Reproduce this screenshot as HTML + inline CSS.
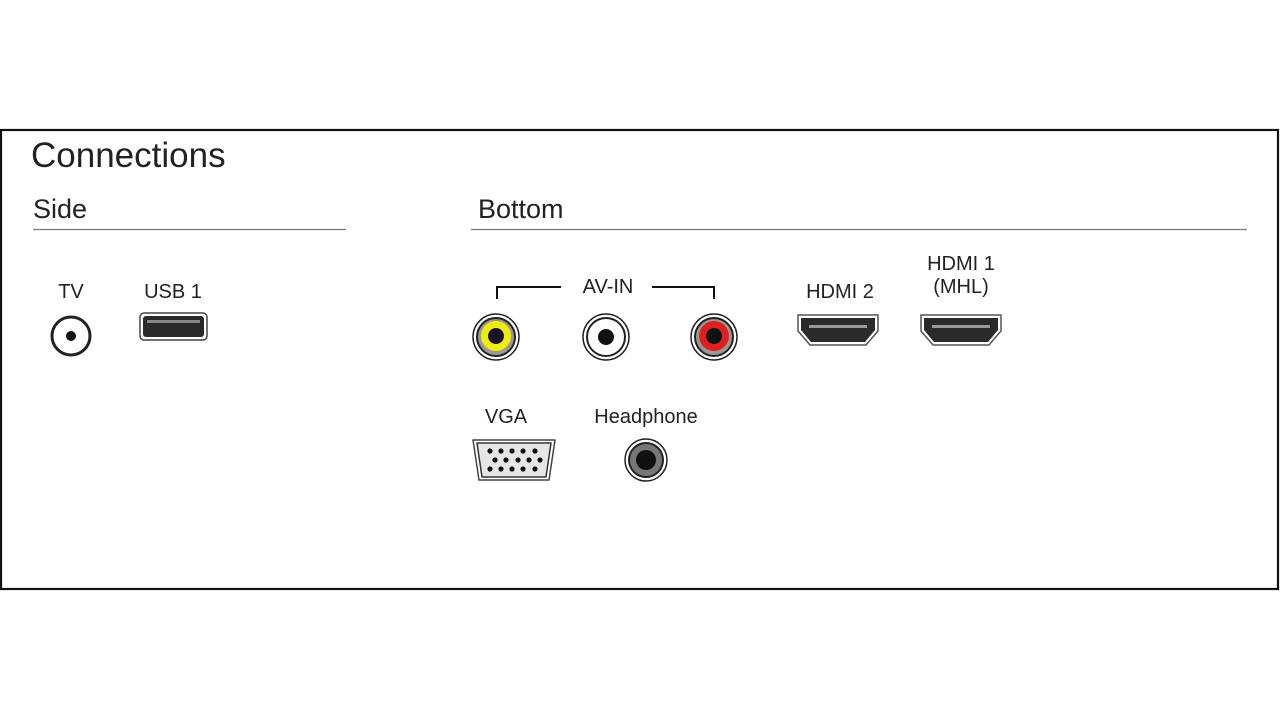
<!DOCTYPE html>
<html><head><style>
body{margin:0;background:#fff;}
svg text{font-family:"Liberation Sans",sans-serif;fill:#222;}
</style></head><body>
<svg width="1280" height="720" viewBox="0 0 1280 720">
<rect x="1" y="130" width="1277" height="459" fill="none" stroke="#111" stroke-width="2.2"/>
<text x="31" y="167" font-size="35" style="font-weight:300" fill="#333">Connections</text>
<text x="33" y="218" font-size="27">Side</text>
<text x="478" y="218" font-size="27">Bottom</text>
<line x1="33" y1="229.5" x2="346" y2="229.5" stroke="#777" stroke-width="1.3"/>
<line x1="471" y1="229.5" x2="1247" y2="229.5" stroke="#777" stroke-width="1.3"/>
<g font-size="20" text-anchor="middle">
<text x="71" y="298">TV</text>
<text x="173" y="298">USB 1</text>
<text x="608" y="293">AV-IN</text>
<text x="840" y="298">HDMI 2</text>
<text x="961" y="270">HDMI 1</text>
<text x="961" y="293">(MHL)</text>
<text x="506" y="423">VGA</text>
<text x="646" y="423">Headphone</text>
</g>
<!-- TV jack -->
<circle cx="71" cy="336" r="19" fill="#fff" stroke="#222" stroke-width="3"/>
<circle cx="71" cy="336" r="5" fill="#111"/>
<!-- USB -->
<rect x="140" y="313" width="67" height="27" rx="4" fill="#fff" stroke="#444" stroke-width="1.5"/>
<rect x="143" y="316" width="61" height="21" rx="3" fill="#2a2a2a"/>
<rect x="147" y="320" width="53" height="3" fill="#888"/>
<!-- AV-IN bracket -->
<polyline points="497,299 497,287 561,287" fill="none" stroke="#111" stroke-width="2"/>
<polyline points="652,287 714,287 714,299" fill="none" stroke="#111" stroke-width="2"/>
<!-- RCA -->
<g>
<circle cx="496" cy="337" r="23" fill="#fff" stroke="#222" stroke-width="1.5"/>
<circle cx="496" cy="337" r="19" fill="#999" stroke="#222" stroke-width="2"/>
<circle cx="496" cy="336" r="15" fill="#f0ec10"/>
<circle cx="496" cy="336" r="8" fill="#1a1420"/>
<circle cx="606" cy="337" r="23" fill="#fff" stroke="#222" stroke-width="1.5"/>
<circle cx="606" cy="337" r="19" fill="#fff" stroke="#222" stroke-width="2"/>
<circle cx="606" cy="337" r="8" fill="#111"/>
<circle cx="714" cy="337" r="23" fill="#fff" stroke="#222" stroke-width="1.5"/>
<circle cx="714" cy="337" r="19" fill="#999" stroke="#222" stroke-width="2"/>
<circle cx="714" cy="336" r="15" fill="#e02020"/>
<circle cx="714" cy="336" r="8" fill="#111"/>
</g>
<!-- HDMI -->
<g>
<path d="M798,315 h80 v16 l-12,14 h-56 l-12,-14 z" fill="#fff" stroke="#555" stroke-width="1.5"/>
<path d="M801,318 h74 v12 l-10,12 h-54 l-10,-12 z" fill="#2a2a2a"/>
<rect x="809" y="325" width="58" height="3" fill="#999"/>
<path d="M921,315 h80 v16 l-12,14 h-56 l-12,-14 z" fill="#fff" stroke="#555" stroke-width="1.5"/>
<path d="M924,318 h74 v12 l-10,12 h-54 l-10,-12 z" fill="#2a2a2a"/>
<rect x="932" y="325" width="58" height="3" fill="#999"/>
</g>
<!-- VGA -->
<path d="M473,440 h82 l-6,40 h-70 z" fill="#fff" stroke="#444" stroke-width="1.5" stroke-linejoin="round"/>
<path d="M477,443 h74 l-5,34 h-64 z" fill="#e6e6e6" stroke="#333" stroke-width="1.5" stroke-linejoin="round"/>
<g fill="#111">
<circle cx="490" cy="451" r="2.6"/><circle cx="501" cy="451" r="2.6"/><circle cx="512" cy="451" r="2.6"/><circle cx="523" cy="451" r="2.6"/><circle cx="535" cy="451" r="2.6"/>
<circle cx="495" cy="460" r="2.6"/><circle cx="506" cy="460" r="2.6"/><circle cx="518" cy="460" r="2.6"/><circle cx="529" cy="460" r="2.6"/><circle cx="540" cy="460" r="2.6"/>
<circle cx="490" cy="469" r="2.6"/><circle cx="501" cy="469" r="2.6"/><circle cx="512" cy="469" r="2.6"/><circle cx="523" cy="469" r="2.6"/><circle cx="535" cy="469" r="2.6"/>
</g>
<!-- Headphone -->
<circle cx="646" cy="460" r="21" fill="#fff" stroke="#222" stroke-width="1.5"/>
<circle cx="646" cy="460" r="17" fill="#777" stroke="#222" stroke-width="2"/>
<circle cx="646" cy="460" r="10" fill="#111"/>
</svg>
</body></html>
